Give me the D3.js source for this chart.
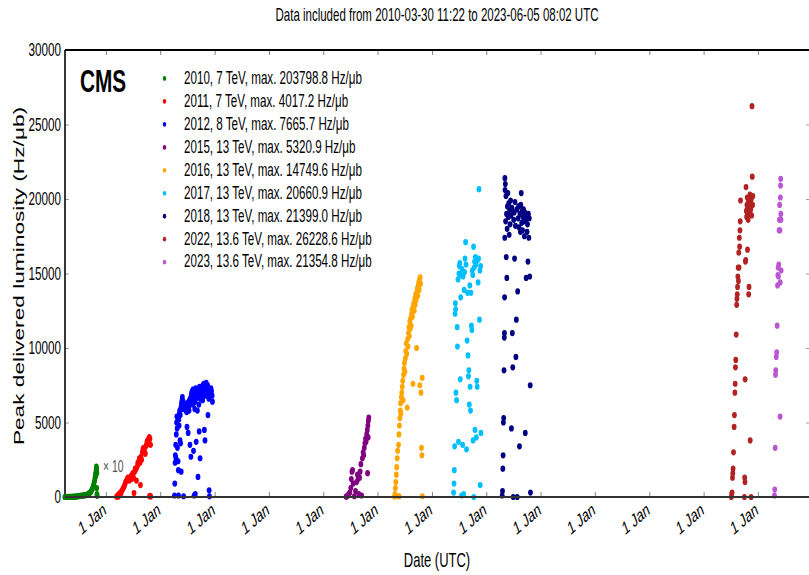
<!DOCTYPE html>
<html><head><meta charset="utf-8">
<script src="https://cdn.jsdelivr.net/npm/d3@7"></script>
<style>html,body{margin:0;padding:0;background:#fff;overflow:hidden}</style>
</head><body>
<svg id="chart" width="809" height="575"></svg>
<script>
const titleText = "Data included from 2010-03-30 11:22 to 2023-06-05 08:02 UTC";
const xLabel = "Date (UTC)";
const yLabel = "Peak delivered luminosity (Hz/\u03bcb)";
const categories = [
  "2010, 7 TeV, max. 203798.8 Hz/\u03bcb",
  "2011, 7 TeV, max. 4017.2 Hz/\u03bcb",
  "2012, 8 TeV, max. 7665.7 Hz/\u03bcb",
  "2015, 13 TeV, max. 5320.9 Hz/\u03bcb",
  "2016, 13 TeV, max. 14749.6 Hz/\u03bcb",
  "2017, 13 TeV, max. 20660.9 Hz/\u03bcb",
  "2018, 13 TeV, max. 21399.0 Hz/\u03bcb",
  "2022, 13.6 TeV, max. 26228.6 Hz/\u03bcb",
  "2023, 13.6 TeV, max. 21354.8 Hz/\u03bcb"
];
const seriesColors = ["#008000","#ff0000","#0000ff","#800080","#ffa500","#00bfff","#000080","#b22222","#ba55d3"];
const seriesScale = [10,1,1,1,1,1,1,1,1];
const tickYears = [2011,2012,2013,2014,2015,2016,2017,2018,2019,2020,2021,2022,2023];
const tickLabel = "1 Jan";
const yTicks = [0,5000,10000,15000,20000,25000,30000];
const xDomain = ["2010-03-31","2023-12-16"];

const data2010 = [["2010-03-30",0.01],["2010-04-04",0.02],["2010-04-10",0.05],["2010-04-16",0.1],["2010-04-22",0.2],["2010-04-28",0.3],["2010-05-04",0.5],["2010-05-10",0.8],["2010-05-16",1],["2010-05-22",1.5],["2010-05-28",2],["2010-06-03",2.5],["2010-06-09",3],["2010-06-15",3.5],["2010-06-21",4],["2010-06-27",5],["2010-07-03",6],["2010-07-09",7],["2010-07-15",8],["2010-07-21",9],["2010-07-27",10],["2010-08-02",10],["2010-08-08",11],["2010-08-14",12],["2010-08-20",13],["2010-08-26",15],["2010-09-01",18],["2010-09-06",22],["2010-09-11",25],["2010-09-16",30],["2010-09-21",35],["2010-09-26",45],["2010-10-01",55],["2010-10-05",65],["2010-10-09",80],["2010-10-13",95],["2010-10-16",110],["2010-10-19",130],["2010-10-21",150],["2010-10-23",140],["2010-10-25",170],["2010-10-27",190],["2010-10-28",203.8],["2010-10-29",185],["2010-10-30",60],["2010-10-31",160],["2010-11-01",20],["2010-11-02",8]];

const data2011 = [["2011-03-13",20],["2011-03-16",50],["2011-03-20",100],["2011-03-25",30],["2011-03-28",200],["2011-04-02",150],["2011-04-08",300],["2011-04-12",250],["2011-04-16",400],["2011-04-22",500],["2011-04-27",600],["2011-05-03",700],["2011-05-08",850],["2011-05-12",1000],["2011-05-18",1100],["2011-05-24",1200],["2011-05-28",1300],["2011-06-03",1250],["2011-06-07",1100],["2011-06-12",1300],["2011-06-17",1400],["2011-06-22",1200],["2011-06-26",1500],["2011-06-30",1600],["2011-07-05",1300],["2011-07-08",270],["2011-07-12",1700],["2011-07-16",1900],["2011-07-20",1850],["2011-07-24",1100],["2011-07-28",2000],["2011-08-02",2300],["2011-08-05",2200],["2011-08-09",2400],["2011-08-13",2600],["2011-08-17",2300],["2011-08-20",800],["2011-08-24",2700],["2011-08-28",2500],["2011-09-02",3000],["2011-09-06",3200],["2011-09-10",3300],["2011-09-14",3100],["2011-09-18",3000],["2011-09-22",2900],["2011-09-26",3400],["2011-09-30",3500],["2011-10-03",3700],["2011-10-07",3800],["2011-10-11",3600],["2011-10-15",3900],["2011-10-19",4017.2],["2011-10-23",3900],["2011-10-27",3500],["2011-10-20",50],["2011-10-24",80],["2011-10-28",30]];

const data2012 = [["2012-04-05",100],["2012-04-07",900],["2012-04-09",2300],["2012-04-11",2800],["2012-04-13",3500],["2012-04-15",2600],["2012-04-17",4200],["2012-04-19",5000],["2012-04-21",5400],["2012-04-23",4600],["2012-04-25",3300],["2012-04-27",5300],["2012-04-29",2400],["2012-05-01",1800],["2012-05-02",100],["2012-05-04",5200],["2012-05-06",4800],["2012-05-08",5600],["2012-05-10",5800],["2012-05-12",3800],["2012-05-14",5500],["2012-05-16",3600],["2012-05-18",6000],["2012-05-20",1700],["2012-05-22",6300],["2012-05-24",6100],["2012-05-26",6500],["2012-05-28",6700],["2012-05-30",5900],["2012-06-01",6200],["2012-06-03",6400],["2012-06-05",50],["2012-06-20",5800],["2012-06-22",6000],["2012-06-24",6200],["2012-06-26",5700],["2012-06-28",4700],["2012-06-30",6100],["2012-07-02",6300],["2012-07-04",6000],["2012-07-06",4300],["2012-07-08",6200],["2012-07-10",6400],["2012-07-12",5800],["2012-07-14",6100],["2012-07-16",6500],["2012-07-18",3500],["2012-07-20",6600],["2012-07-22",6300],["2012-07-24",2700],["2012-07-26",6700],["2012-07-28",6900],["2012-07-30",7000],["2012-08-01",6800],["2012-08-03",7100],["2012-08-05",6500],["2012-08-07",7200],["2012-08-09",6200],["2012-08-11",3100],["2012-08-13",6900],["2012-08-15",100],["2012-08-17",7000],["2012-08-19",5900],["2012-08-21",6400],["2012-08-23",200],["2012-08-25",7300],["2012-08-27",6600],["2012-08-29",3700],["2012-08-31",6900],["2012-09-02",7100],["2012-09-04",6800],["2012-09-06",5800],["2012-09-08",7200],["2012-09-10",1350],["2012-09-12",7000],["2012-09-14",6700],["2012-09-16",6200],["2012-09-18",4400],["2012-09-20",7400],["2012-09-22",6900],["2012-09-24",2600],["2012-09-26",6600],["2012-09-28",7100],["2012-10-01",7300],["2012-10-03",6800],["2012-10-05",7000],["2012-10-07",7400],["2012-10-09",7200],["2012-10-11",6500],["2012-10-13",7500],["2012-10-15",7100],["2012-10-17",6900],["2012-10-19",7600],["2012-10-21",7300],["2012-10-23",4500],["2012-10-25",7000],["2012-10-27",3800],["2012-10-29",7300],["2012-10-31",6800],["2012-11-02",7500],["2012-11-04",7665.7],["2012-11-06",7200],["2012-11-08",7400],["2012-11-10",6900],["2012-11-12",7100],["2012-11-14",7500],["2012-11-16",5500],["2012-11-18",7300],["2012-11-20",7000],["2012-11-22",6600],["2012-11-24",450],["2012-11-26",50],["2012-12-01",7200],["2012-12-04",6900],["2012-12-06",7300],["2012-12-10",7100],["2012-12-14",6800],["2012-12-16",6400]];

const data2015 = [["2015-06-03",20],["2015-06-08",50],["2015-06-14",100],["2015-06-20",200],["2015-06-28",300],["2015-07-04",600],["2015-07-08",1200],["2015-07-12",1700],["2015-07-16",1800],["2015-07-20",900],["2015-07-28",50],["2015-08-05",400],["2015-08-12",1000],["2015-08-18",1500],["2015-08-22",1200],["2015-08-27",200],["2015-09-01",1300],["2015-09-05",1700],["2015-09-10",2200],["2015-09-15",100],["2015-09-20",2600],["2015-09-25",3000],["2015-09-29",2800],["2015-10-03",3300],["2015-10-07",3600],["2015-10-11",3900],["2015-10-15",3700],["2015-10-19",4200],["2015-10-23",4500],["2015-10-25",1600],["2015-10-27",4800],["2015-10-29",4000],["2015-10-30",5100],["2015-11-02",5320.9]];

const data2016 = [["2016-04-23",30],["2016-04-26",200],["2016-04-29",600],["2016-05-02",1000],["2016-05-05",1500],["2016-05-08",2000],["2016-05-11",2600],["2016-05-14",3100],["2016-05-17",50],["2016-05-20",3500],["2016-05-23",4200],["2016-05-25",50],["2016-05-26",4800],["2016-05-29",5300],["2016-06-01",5800],["2016-06-03",6300],["2016-06-05",5600],["2016-06-08",6700],["2016-06-11",7000],["2016-06-14",7400],["2016-06-17",7800],["2016-06-20",6500],["2016-06-23",8200],["2016-06-26",8600],["2016-06-29",9000],["2016-07-02",8400],["2016-07-05",9300],["2016-07-08",9800],["2016-07-11",10300],["2016-07-14",9600],["2016-07-17",6000],["2016-07-20",10600],["2016-07-23",10100],["2016-07-26",11000],["2016-07-29",11400],["2016-08-01",10800],["2016-08-04",11800],["2016-08-07",11300],["2016-08-10",12000],["2016-08-13",11500],["2016-08-16",12300],["2016-08-19",12600],["2016-08-22",12100],["2016-08-25",7600],["2016-08-28",12800],["2016-08-31",13000],["2016-09-03",12500],["2016-09-06",13300],["2016-09-09",12900],["2016-09-12",13600],["2016-09-15",13200],["2016-09-18",10000],["2016-09-21",13800],["2016-09-24",14000],["2016-09-27",13500],["2016-09-30",14200],["2016-10-03",14400],["2016-10-06",13900],["2016-10-09",14600],["2016-10-10",7500],["2016-10-12",14749.6],["2016-10-15",14300],["2016-10-18",7000],["2016-10-21",3300],["2016-10-24",2800],["2016-10-26",8000],["2016-10-27",50]];

const data2017 = [["2017-05-25",300],["2017-05-28",900],["2017-05-30",1800],["2017-06-01",3400],["2017-06-04",12300],["2017-06-06",13000],["2017-06-08",12600],["2017-06-10",7000],["2017-06-14",6500],["2017-06-18",11400],["2017-06-20",10100],["2017-06-24",14600],["2017-06-27",3700],["2017-06-30",15000],["2017-07-03",15500],["2017-07-06",15700],["2017-07-09",7900],["2017-07-12",13400],["2017-07-15",14900],["2017-07-18",100],["2017-07-21",15300],["2017-07-25",3500],["2017-07-28",14800],["2017-08-01",200],["2017-08-04",13900],["2017-08-07",15100],["2017-08-10",16000],["2017-08-14",17100],["2017-08-17",15600],["2017-08-20",3200],["2017-08-24",10500],["2017-08-27",13700],["2017-08-30",9500],["2017-09-02",8100],["2017-09-05",8500],["2017-09-08",6200],["2017-09-11",14200],["2017-09-13",7400],["2017-09-16",5800],["2017-09-19",13700],["2017-09-22",11500],["2017-09-25",11200],["2017-09-28",15200],["2017-10-01",14900],["2017-10-03",3800],["2017-10-06",16800],["2017-10-08",0],["2017-10-10",15400],["2017-10-13",15800],["2017-10-16",4500],["2017-10-19",16100],["2017-10-22",15600],["2017-10-25",4000],["2017-10-28",7800],["2017-10-31",7400],["2017-11-03",15900],["2017-11-06",14400],["2017-11-09",16000],["2017-11-12",20660.9],["2017-11-15",11900],["2017-11-18",15200],["2017-11-20",800],["2017-11-23",15500],["2017-11-25",4300]];

const data2018 = [["2018-04-17",100],["2018-04-19",400],["2018-04-21",1900],["2018-04-23",2800],["2018-04-25",5000],["2018-04-27",5300],["2018-04-29",8500],["2018-05-01",10700],["2018-05-02",11000],["2018-05-03",13400],["2018-05-04",17400],["2018-05-05",21399.0],["2018-05-06",20600],["2018-05-08",21000],["2018-05-10",18500],["2018-05-12",20200],["2018-05-14",16100],["2018-05-16",19000],["2018-05-18",14700],["2018-05-20",18000],["2018-05-22",19500],["2018-05-25",20400],["2018-05-28",18800],["2018-05-31",19700],["2018-06-03",17600],["2018-06-06",19200],["2018-06-09",18300],["2018-06-12",19900],["2018-06-15",18900],["2018-06-18",4600],["2018-06-21",19400],["2018-06-24",11000],["2018-06-27",8700],["2018-06-30",0],["2018-07-03",18600],["2018-07-06",19100],["2018-07-09",16000],["2018-07-12",19800],["2018-07-15",18200],["2018-07-18",9400],["2018-07-21",11900],["2018-07-24",19300],["2018-07-27",0],["2018-07-30",13800],["2018-08-02",18700],["2018-08-05",19500],["2018-08-08",18100],["2018-08-11",3400],["2018-08-14",19000],["2018-08-17",17800],["2018-08-20",19600],["2018-08-23",20400],["2018-08-26",18400],["2018-08-29",19200],["2018-09-01",17900],["2018-09-04",18800],["2018-09-07",19300],["2018-09-10",18500],["2018-09-13",17500],["2018-09-16",19100],["2018-09-19",4300],["2018-09-22",18600],["2018-09-25",14700],["2018-09-28",18900],["2018-10-01",17800],["2018-10-04",18300],["2018-10-07",15800],["2018-10-10",19000],["2018-10-13",17400],["2018-10-16",18700],["2018-10-19",14800],["2018-10-22",7500],["2018-10-24",300]];

const data2022 = [["2022-07-05",0],["2022-07-08",200],["2022-07-10",300],["2022-07-13",1300],["2022-07-15",1600],["2022-07-17",1900],["2022-07-20",3000],["2022-07-24",4700],["2022-07-26",5500],["2022-07-29",7000],["2022-07-31",7600],["2022-08-02",8700],["2022-08-04",9200],["2022-08-07",10900],["2022-08-10",12900],["2022-08-12",13300],["2022-08-14",13600],["2022-08-16",14100],["2022-08-18",14800],["2022-08-20",15400],["2022-08-22",14500],["2022-08-24",16400],["2022-08-26",15400],["2022-08-28",17400],["2022-08-30",16800],["2022-09-01",17900],["2022-09-03",18500],["2022-09-05",19900],["2022-10-01",0],["2022-10-03",1300],["2022-10-05",1000],["2022-10-06",7900],["2022-10-08",15800],["2022-10-10",15900],["2022-10-12",20800],["2022-10-14",19200],["2022-10-16",18800],["2022-10-18",19600],["2022-10-20",20100],["2022-10-22",16600],["2022-10-24",19400],["2022-10-26",18600],["2022-10-28",19800],["2022-10-30",13600],["2022-11-01",14100],["2022-11-03",19000],["2022-11-05",19500],["2022-11-07",20300],["2022-11-09",3800],["2022-11-11",19700],["2022-11-13",19300],["2022-11-15",0],["2022-11-17",20000],["2022-11-19",18900],["2022-11-21",26228.6],["2022-11-23",21500],["2022-11-25",19600],["2022-11-27",20200]];

const data2023 = [["2023-04-21",100],["2023-04-23",500],["2023-04-26",3300],["2023-04-28",8200],["2023-04-30",8500],["2023-05-03",9400],["2023-05-06",9700],["2023-05-09",11500],["2023-05-12",14200],["2023-05-14",14900],["2023-05-16",15400],["2023-05-18",14800],["2023-05-20",15600],["2023-05-22",17900],["2023-05-24",18600],["2023-05-26",19600],["2023-05-28",17900],["2023-05-29",5400],["2023-05-30",14400],["2023-05-31",20100],["2023-06-01",20900],["2023-06-02",21354.8],["2023-06-03",19000],["2023-06-04",18600],["2023-06-05",15200]];

const seriesData = [data2010,data2011,data2012,data2015,data2016,data2017,data2018,data2022,data2023];

// ---- drawing ----
const SX = 0.65;              // horizontal compression of the whole figure
const FONT = "'Liberation Sans', Arial, Helvetica, sans-serif";
const parse = d3.utcParse("%Y-%m-%d");
const svg = d3.select("#chart");
const g = svg.append("g").attr("transform", `scale(${SX},1)`);

const xSc = d3.scaleUtc().domain(xDomain.map(parse)).range([65 / SX, 810 / SX]);
const ySc = d3.scaleLinear().domain([0, 30000]).range([497, 50]);
const [px0, px1] = xSc.range();
const [pyb, pyt] = ySc.range();

// title
g.append("text").attr("x", 437 / SX).attr("y", 21).attr("text-anchor", "middle")
  .attr("font-family", FONT).attr("font-size", 17.7).attr("fill", "#000").text(titleText);

// axes
const tickDates = tickYears.map(yr => new Date(Date.UTC(yr, 0, 1)));
const axB = g.append("g").attr("transform", `translate(0,${pyb})`)
  .call(d3.axisBottom(xSc).tickValues(tickDates).tickSize(-5).tickFormat(() => tickLabel));
axB.select(".domain").remove();
axB.selectAll(".tick line").attr("stroke", "#888").attr("stroke-width", 1.6);
axB.selectAll(".tick text").attr("x", null).attr("y", null).attr("dy", null)
  .attr("text-anchor", "end").attr("transform", "translate(1,16) rotate(-30)")
  .attr("font-family", FONT).attr("font-size", 18.5).attr("fill", "#000");

const axT = g.append("g").attr("transform", `translate(0,${pyt})`)
  .call(d3.axisTop(xSc).tickValues(tickDates).tickSize(-5).tickFormat(""));
axT.select(".domain").remove();
axT.selectAll(".tick line").attr("stroke", "#888").attr("stroke-width", 1.6);

const axL = g.append("g").attr("transform", `translate(${px0},0)`)
  .call(d3.axisLeft(ySc).tickValues(yTicks).tickSize(-6).tickPadding(6).tickFormat(d3.format("d")));
axL.select(".domain").remove();
axL.selectAll(".tick line").attr("stroke", "#888").attr("stroke-width", 1);
axL.selectAll(".tick text").attr("font-family", FONT).attr("font-size", 18).attr("fill", "#000");

const axR = g.append("g").attr("transform", `translate(${px1},0)`)
  .call(d3.axisRight(ySc).tickValues(yTicks).tickSize(-6).tickFormat(""));
axR.select(".domain").remove();
axR.selectAll(".tick line").attr("stroke", "#888").attr("stroke-width", 1);

// spines
g.append("line").attr("x1", px0).attr("x2", px1).attr("y1", pyt).attr("y2", pyt).attr("stroke", "#000").attr("stroke-width", 2);
g.append("line").attr("x1", px0).attr("x2", px0).attr("y1", pyt).attr("y2", pyb).attr("stroke", "#000").attr("stroke-width", 2.4);
g.append("line").attr("x1", px1).attr("x2", px1).attr("y1", pyt).attr("y2", pyb).attr("stroke", "#000").attr("stroke-width", 2.4);

// points
seriesData.forEach((arr, i) => {
  g.append("g").selectAll("ellipse").data(arr).join("ellipse")
    .attr("cx", d => xSc(parse(d[0])))
    .attr("cy", d => ySc(d[1] * seriesScale[i]))
    .attr("rx", 3.7)
    .attr("ry", 3.1)
    .attr("fill", seriesColors[i]);
});

// bottom spine drawn over points
g.append("line").attr("x1", px0).attr("x2", px1).attr("y1", pyb).attr("y2", pyb).attr("stroke", "#333").attr("stroke-width", 2);

// x10 note
g.append("text").attr("x", 103 / SX).attr("y", 472).attr("font-family", FONT)
  .attr("font-size", 16).attr("fill", "#555").text("\u00d7 10");

// CMS
g.append("text").attr("x", 80 / SX).attr("y", 92).attr("font-family", FONT)
  .attr("font-weight", "bold").attr("font-size", 32).attr("fill", "#000").text("CMS");

// legend
const leg = g.append("g");
categories.forEach((c, i) => {
  leg.append("ellipse").attr("cx", 164.5 / SX).attr("cy", 78.5 + i * 22.96).attr("rx", 2.6).attr("ry", 2.4).attr("fill", seriesColors[i]);
  leg.append("text").attr("x", 184 / SX).attr("y", 83.8 + i * 22.96).attr("font-family", FONT)
    .attr("font-size", 17.9).attr("fill", "#000").text(c);
});

// axis labels
g.append("text").attr("x", 437 / SX).attr("y", 567).attr("text-anchor", "middle")
  .attr("font-family", FONT).attr("font-size", 20).attr("fill", "#000").text(xLabel);
g.append("text").attr("transform", `translate(${19 / SX},276) rotate(-90)`)
  .attr("text-anchor", "middle").attr("dominant-baseline", "central")
  .attr("font-family", FONT).attr("font-size", 22.7).attr("fill", "#000").text(yLabel);
</script>
</body></html>
